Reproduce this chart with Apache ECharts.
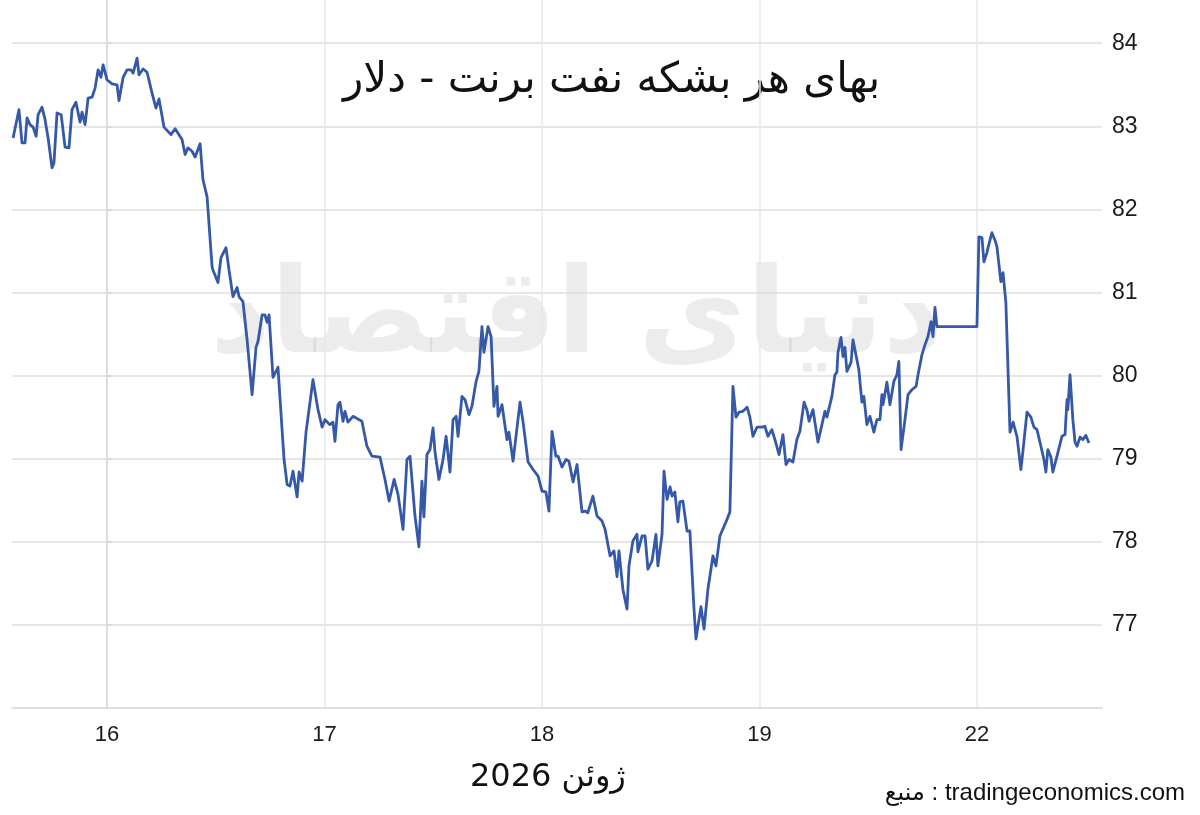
<!DOCTYPE html>
<html>
<head>
<meta charset="utf-8">
<script src="https://cdn.jsdelivr.net/npm/echarts@6/dist/echarts.min.js"></script>
<style>
html,body{margin:0;padding:0;background:#fff;}
#chart{width:1200px;height:815px;}
</style>
</head>
<body>
<div id="chart"></div>
<script>
// Trading-day axis: 0 = June 16, 1 = 17, 2 = 18, 3 = 19, 4 = 22 (weekend skipped)
const dayTicks = [0, 1, 2, 3, 4];
const dayLabels = ['16', '17', '18', '19', '22'];
const priceTicks = [77, 78, 79, 80, 81, 82, 83, 84];

const titleText = 'بهای هر بشکه نفت برنت - دلار';
const monthText = '2026 ژوئن';
const sourceText = 'منبع : tradingeconomics.com';
const watermarkText = 'دنیای اقتصاد';

// observation times (trading-day units)
const times = [
-0.432,-0.405,-0.391,-0.377,-0.368,-0.354,-0.340,-0.326,-0.317,-0.299,
-0.285,-0.271,-0.253,-0.244,-0.230,-0.211,-0.193,-0.175,-0.161,-0.143,
-0.124,-0.115,-0.101,-0.087,-0.069,-0.055,-0.041,-0.028,-0.018,0.000,
0.023,0.046,0.055,0.074,0.092,0.110,0.120,0.138,0.147,0.166,
0.184,0.207,0.225,0.239,0.262,0.294,0.313,0.345,0.359,0.372,
0.391,0.405,0.428,0.441,0.460,0.483,0.487,0.510,0.524,0.533,
0.547,0.561,0.579,0.598,0.607,0.625,0.644,0.667,0.685,0.694,
0.713,0.726,0.736,0.745,0.763,0.786,0.814,0.828,0.841,0.855,
0.874,0.883,0.897,0.915,0.924,0.947,0.970,0.989,1.002,1.025,
1.039,1.048,1.062,1.071,1.085,1.094,1.108,1.131,1.172,1.195,
1.218,1.255,1.278,1.297,1.320,1.338,1.361,1.379,1.393,1.402,
1.416,1.434,1.448,1.457,1.471,1.485,1.499,1.508,1.526,1.545,
1.559,1.577,1.591,1.605,1.614,1.632,1.646,1.664,1.678,1.697,
1.710,1.724,1.733,1.752,1.766,1.779,1.793,1.798,1.816,1.839,
1.848,1.867,1.899,1.913,1.936,1.959,1.982,2.000,2.018,2.032,
2.046,2.064,2.074,2.092,2.110,2.124,2.143,2.161,2.184,2.198,
2.211,2.234,2.253,2.276,2.290,2.313,2.331,2.345,2.354,2.372,
2.391,2.400,2.418,2.437,2.441,2.460,2.474,2.487,2.506,2.524,
2.533,2.552,2.561,2.575,2.589,2.598,2.611,2.625,2.634,2.648,
2.667,2.680,2.699,2.708,2.731,2.745,2.763,2.786,2.800,2.818,
2.851,2.864,2.878,2.892,2.906,2.924,2.943,2.956,2.970,2.989,
3.011,3.025,3.039,3.057,3.071,3.090,3.108,3.122,3.136,3.154,
3.172,3.186,3.205,3.218,3.228,3.246,3.269,3.278,3.301,3.310,
3.333,3.347,3.356,3.361,3.375,3.384,3.393,3.402,3.421,3.430,
3.448,3.457,3.471,3.480,3.494,3.508,3.526,3.540,3.554,3.563,
3.568,3.586,3.600,3.618,3.632,3.641,3.651,3.669,3.683,3.701,
3.720,3.729,3.747,3.761,3.775,3.789,3.798,3.807,3.816,3.830,
4.000,4.009,4.023,4.032,4.046,4.051,4.069,4.083,4.092,4.110,
4.120,4.133,4.152,4.166,4.184,4.202,4.211,4.230,4.248,4.262,
4.276,4.294,4.308,4.317,4.326,4.340,4.349,4.368,4.377,4.391,
4.405,4.414,4.418,4.428,4.441,4.451,4.460,4.474,4.487,4.501,
4.515
];

// Brent crude price, USD per barrel
const prices = [
82.86,83.20,82.80,82.80,83.10,83.02,82.99,82.88,83.14,83.23,
83.08,82.86,82.50,82.56,83.16,83.14,82.75,82.74,83.20,83.29,
83.05,83.17,83.02,83.34,83.35,83.46,83.68,83.59,83.74,83.56,
83.51,83.50,83.31,83.59,83.68,83.68,83.64,83.82,83.62,83.69,
83.65,83.40,83.22,83.33,82.99,82.90,82.97,82.84,82.66,82.74,
82.70,82.63,82.79,82.36,82.15,81.31,81.27,81.12,81.42,81.43,
81.54,81.27,80.95,81.06,80.95,80.89,80.43,79.77,80.34,80.41,
80.73,80.73,80.64,80.73,79.98,80.10,78.99,78.69,78.67,78.85,
78.54,78.84,78.73,79.32,79.33,79.95,79.59,79.38,79.47,79.41,
79.44,79.21,79.65,79.68,79.45,79.57,79.44,79.51,79.45,79.15,
79.03,79.02,78.75,78.49,78.75,78.57,78.15,78.99,79.03,78.75,
78.31,77.94,78.73,78.30,79.05,79.11,79.37,79.08,78.75,78.99,
79.27,78.84,79.47,79.51,79.27,79.75,79.71,79.53,79.63,79.93,
80.05,80.59,80.28,80.59,80.47,79.63,79.87,79.51,79.65,79.23,
79.32,78.97,79.68,79.44,78.96,78.87,78.79,78.61,78.60,78.37,
79.33,79.03,79.03,78.90,78.99,78.97,78.72,78.93,78.36,78.37,
78.35,78.55,78.31,78.25,78.15,77.83,77.89,77.58,77.89,77.43,
77.19,77.71,78.01,78.09,77.88,78.07,78.07,77.67,77.77,78.09,
77.71,78.09,78.85,78.51,78.66,78.55,78.60,78.24,78.48,78.49,
78.13,78.13,77.19,76.83,77.22,76.95,77.43,77.83,77.71,78.07,
78.27,78.36,79.87,79.50,79.56,79.57,79.62,79.50,79.27,79.38,
79.38,79.39,79.27,79.35,79.23,79.05,79.29,78.93,78.99,78.96,
79.23,79.33,79.68,79.59,79.45,79.59,79.20,79.20,79.57,79.50,
79.75,80.01,80.04,80.28,80.46,80.23,80.34,80.05,80.16,80.43,
80.19,80.07,79.68,79.75,79.41,79.51,79.32,79.47,79.47,79.77,
79.65,79.92,79.65,79.93,80.01,80.17,79.11,79.47,79.77,79.83,
79.87,80.01,80.25,80.37,80.47,80.65,80.47,80.82,80.59,80.59,
80.59,81.67,81.66,81.37,81.48,81.54,81.72,81.63,81.55,81.13,
81.24,80.88,79.32,79.44,79.27,78.87,79.08,79.56,79.50,79.38,
79.35,79.15,78.99,78.84,79.11,79.02,78.84,79.03,79.05,79.27,
79.29,79.71,79.59,80.01,79.47,79.20,79.15,79.26,79.23,79.28,
79.19
];

const seriesData = times.map((t, i) => [t, prices[i]]);

const chart = echarts.init(document.getElementById('chart'), null, {renderer: 'canvas'});
const tickFont = "'Liberation Sans', Arial, sans-serif";

chart.setOption({
  animation: false,
  backgroundColor: '#ffffff',
  grid: {left: 12, right: 98, top: 0, bottom: 107, containLabel: false},
  xAxis: {
    type: 'value',
    min: -0.437,
    max: 4.575,
    axisLine: {show: true, lineStyle: {color: '#d6d6d6', width: 1.5}},
    axisTick: {show: false, customValues: dayTicks},
    axisLabel: {
      customValues: dayTicks,
      formatter: v => dayLabels[dayTicks.indexOf(Math.round(v))] || '',
      color: '#1a1a1a', fontSize: 22, fontFamily: tickFont, margin: 16
    },
    splitLine: {show: true, lineStyle: {color: '#e6eaee', width: 1.5}}
  },
  yAxis: {
    type: 'value',
    position: 'right',
    min: 76,
    max: 84.52,
    axisLine: {show: true, lineStyle: {color: '#d6d6d6', width: 1.5}},
    axisTick: {show: true, customValues: priceTicks, length: 5, lineStyle: {color: '#d6d6d6', width: 1.5}},
    axisLabel: {
      customValues: priceTicks,
      color: '#1a1a1a', fontSize: 23, fontFamily: tickFont, margin: 10
    },
    splitLine: {show: true, lineStyle: {color: '#dedede', width: 1.5}}
  },
  graphic: [
    {
      type: 'text', left: 210, top: 262, z: -1, silent: true,
      style: {text: watermarkText, font: "bold 118px 'DejaVu Sans', sans-serif", fill: 'rgba(0,0,0,0.075)'}
    },
    {
      type: 'text', left: 343, top: 60,
      style: {text: titleText, font: "42px 'DejaVu Sans', sans-serif", fill: '#111'}
    },
    {
      type: 'text', left: 470, top: 762,
      style: {text: monthText, font: "32px 'DejaVu Sans', sans-serif", fill: '#111'}
    },
    {
      type: 'text', right: 15, top: 781,
      style: {text: sourceText, font: "24px 'Liberation Sans', 'DejaVu Sans', sans-serif", fill: '#111'}
    }
  ],
  series: [{
    type: 'line',
    data: seriesData,
    showSymbol: false,
    symbol: 'none',
    smooth: false,
    lineStyle: {color: '#3558a8', width: 2.8, join: 'round'},
    z: 5
  }]
});
</script>
</body>
</html>
